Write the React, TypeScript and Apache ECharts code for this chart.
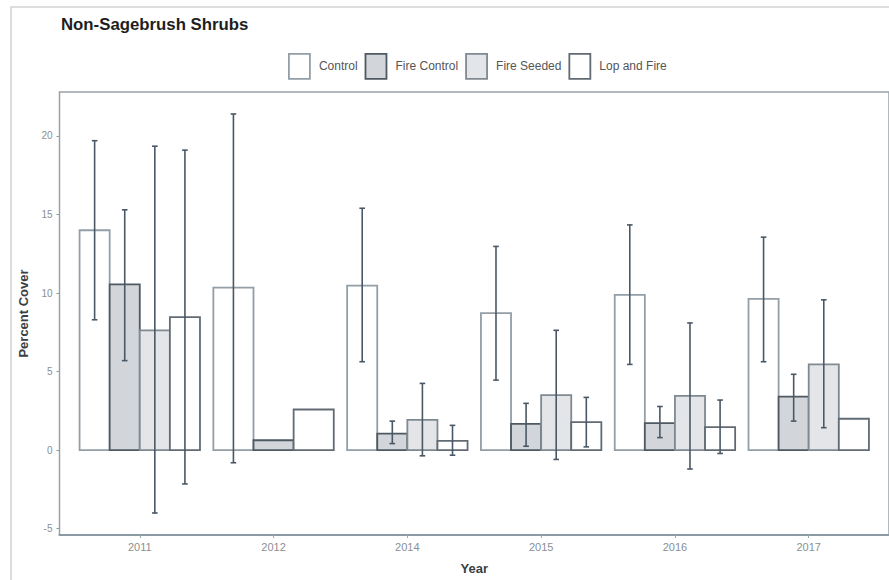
import React, { useEffect, useRef } from "react";
import * as echarts from "echarts";

const years = ["2011", "2012", "2014", "2015", "2016", "2017"];
const groups = ["Control", "Fire Control", "Fire Seeded", "Lop and Fire"];

const control = [14.0, 10.35, 10.47, 8.72, 9.88, 9.63];
const controlLo = [8.3, -0.8, 5.63, 4.46, 5.46, 5.63];
const controlHi = [19.7, 21.4, 15.4, 12.97, 14.34, 13.56];

const fireControl = [10.55, 0.63, 1.05, 1.68, 1.72, 3.41];
const fireControlLo = [5.7, null, 0.42, 0.25, 0.8, 1.85];
const fireControlHi = [15.3, null, 1.85, 2.98, 2.78, 4.83];

const fireSeeded = [7.63, null, 1.93, 3.51, 3.45, 5.46];
const fireSeededLo = [-4.0, null, -0.36, -0.59, -1.2, 1.43];
const fireSeededHi = [19.35, null, 4.25, 7.63, 8.1, 9.57];

const lopFire = [8.47, 2.59, 0.59, 1.79, 1.47, 2.0];
const lopFireLo = [-2.15, null, -0.32, 0.21, -0.21, null];
const lopFireHi = [19.1, null, 1.58, 3.36, 3.19, null];

const yTicks = [-5, 0, 5, 10, 15, 20];

const values = [control, fireControl, fireSeeded, lopFire];
const lows = [controlLo, fireControlLo, fireSeededLo, lopFireLo];
const highs = [controlHi, fireControlHi, fireSeededHi, lopFireHi];

const styles = [
  { fill: "#ffffff", stroke: "#939ea6" },
  { fill: "#d2d5d9", stroke: "#4f5962" },
  { fill: "#e3e5e8", stroke: "#7f8991" },
  { fill: "#ffffff", stroke: "#626b73" },
];

const errColor = "#4a5866";

function buildData(g: number) {
  const out: any[] = [];
  years.forEach((_, i) => {
    const v = values[g][i];
    if (v == null) return;
    const present = values.map((arr) => arr[i] != null);
    const n = present.filter(Boolean).length;
    const slot = present.slice(0, g).filter(Boolean).length;
    out.push([i, v, lows[g][i], highs[g][i], slot, n]);
  });
  return out;
}

function makeRender(g: number) {
  return (params: any, api: any) => {
    const x = api.value(0);
    const v = api.value(1);
    const lo = api.value(2);
    const hi = api.value(3);
    const slot = api.value(4);
    const n = api.value(5);
    const band = api.size([1, 0])[0];
    const groupW = band * 0.9;
    const w = groupW / n;
    const base = api.coord([x, 0]);
    const left = base[0] - groupW / 2 + slot * w;
    const top = api.coord([x, v])[1];
    const children: any[] = [
      {
        type: "rect",
        shape: { x: left, y: Math.min(top, base[1]), width: w, height: Math.abs(base[1] - top) },
        style: { fill: styles[g].fill, stroke: styles[g].stroke, lineWidth: 1.8 },
      },
    ];
    const okLo = lo != null && !isNaN(lo);
    const okHi = hi != null && !isNaN(hi);
    if (okLo && okHi) {
      const cx = left + w / 2;
      const yl = api.coord([x, lo])[1];
      const yh = api.coord([x, hi])[1];
      const cap = 2.8;
      const st = { stroke: errColor, lineWidth: 1.6 };
      children.push({ type: "line", shape: { x1: cx, y1: yh, x2: cx, y2: yl }, style: st });
      children.push({ type: "line", shape: { x1: cx - cap, y1: yh, x2: cx + cap, y2: yh }, style: st });
      children.push({ type: "line", shape: { x1: cx - cap, y1: yl, x2: cx + cap, y2: yl }, style: st });
    }
    return { type: "group", children };
  };
}

export default function App() {
  const ref = useRef<HTMLDivElement>(null);
  useEffect(() => {
    if (!ref.current) return;
    const chart = echarts.init(ref.current, null, { renderer: "svg" });
    const font = "'Liberation Sans', Arial, sans-serif";
    chart.setOption({
      animation: false,
      backgroundColor: "#ffffff",
      textStyle: { fontFamily: font },
      title: {
        text: "Non-Sagebrush Shrubs",
        left: 56,
        top: 11,
        textStyle: { fontSize: 16.8, fontWeight: "bold", color: "#1e1e1e", fontFamily: font },
      },
      legend: {
        left: 283,
        top: 48,
        itemWidth: 21,
        itemHeight: 25,
        itemGap: 7,
        selectedMode: false,
        textStyle: { fontSize: 12, color: "#555", fontFamily: font, padding: [0, 0, 0, 4] },
        data: groups.map((name, g) => ({
          name,
          icon: "rect",
          itemStyle: { color: styles[g].fill, borderColor: styles[g].stroke, borderWidth: 1.8 },
        })),
      },
      graphic: [
        {
          type: "rect",
          shape: { x: 11, y: 7, width: 900, height: 600 },
          style: { fill: "none", stroke: "#d2d2d2", lineWidth: 1.5 },
          silent: true,
          z: -1,
        },
      ],
      grid: {
        left: 59.5,
        top: 92,
        width: 832.7,
        height: 446,
        show: true,
        borderColor: "#9ba1a7",
        borderWidth: 1.5,
        backgroundColor: "transparent",
        containLabel: false,
      },
      xAxis: {
        type: "value",
        min: -0.6,
        max: 5.6,
        name: "Year",
        nameLocation: "middle",
        nameGap: 27,
        nameTextStyle: { fontSize: 13, fontWeight: "bold", color: "#3a3f44", fontFamily: font },
        splitLine: { show: false },
        axisLine: { show: true, onZero: false, lineStyle: { color: "#8c9aa6", width: 2 } },
        axisTick: { show: true, customValues: years.map((_, i) => i), length: 3, lineStyle: { color: "#9aa" } },
        axisLabel: {
          customValues: years.map((_, i) => i),
          formatter: (v: number) => years[Math.round(v)] ?? "",
          fontSize: 11,
          color: "#8a8f94",
          margin: 6,
        },
      },
      yAxis: {
        type: "value",
        min: -5.4,
        max: 22.8,
        name: "Percent Cover",
        nameLocation: "middle",
        nameGap: 29,
        nameTextStyle: { fontSize: 13, fontWeight: "bold", color: "#3a3f44", fontFamily: font },
        splitLine: { show: false },
        axisLine: { show: false, onZero: false },
        axisTick: { show: true, customValues: yTicks, length: 3, lineStyle: { color: "#999" } },
        axisLabel: { customValues: yTicks, fontSize: 10, color: "#8a8f94", margin: 7 },
      },
      series: groups.map((name, g) => ({
        type: "custom",
        name,
        renderItem: makeRender(g),
        itemStyle: { color: styles[g].fill, borderColor: styles[g].stroke, borderWidth: 1.8 },
        data: buildData(g),
        clip: true,
      })),
    });
    return () => chart.dispose();
  }, []);
  return (
    <div
      ref={ref}
      style={{ position: "fixed", left: 0, top: 0, width: 889, height: 580 }}
    />
  );
}
